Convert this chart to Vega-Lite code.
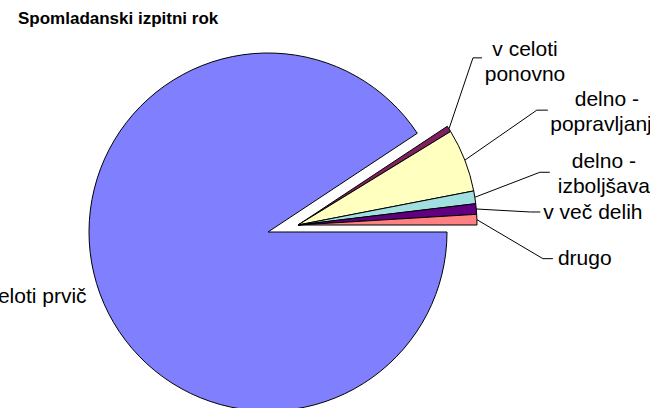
{
  "$schema": "https://vega.github.io/schema/vega-lite/v6.json",
  "width": 536,
  "height": 352,
  "autosize": "none",
  "padding": {"left": 0, "top": 56, "right": 114, "bottom": 0},
  "background": "#ffffff",
  "title": {"text": "Spomladanski izpitni rok", "anchor": "start", "frame": "group", "font": "Liberation Sans", "fontSize": 17, "fontWeight": "bold", "color": "#000000", "dx": 18, "offset": -2, "baseline": "alphabetic"},
  "config": {"view": {"stroke": null}},
  "data": {"values": [
    {"cat": "v celoti prvič", "value": 90.7, "n": 1},
    {"cat": "v celoti ponovno", "value": 0.55, "n": 2},
    {"cat": "delno - popravljanje", "value": 5.7, "n": 3},
    {"cat": "delno - izboljšava", "value": 1.15, "n": 4},
    {"cat": "v več delih", "value": 0.95, "n": 5},
    {"cat": "drugo", "value": 0.95, "n": 6}
  ]},
  "transform": [
    {"joinaggregate": [{"op": "sum", "field": "value", "as": "total"}]},
    {"stack": "value", "groupby": [], "sort": [{"field": "n", "order": "ascending"}], "as": ["v0", "v1"]},
    {"calculate": "datum.v0 / datum.total", "as": "f0"},
    {"calculate": "datum.v1 / datum.total", "as": "f1"},
    {"calculate": "width / 2 + (datum.n == 1 ? 0 : 30)", "as": "cx"},
    {"calculate": "height / 2 + (datum.n == 1 ? 0 : -7)", "as": "cy"},
    {"calculate": "PI / 2 + PI * (datum.f0 + datum.f1)", "as": "ang"},
    {"calculate": "datum.cx + 179 * sin(datum.ang)", "as": "sx"},
    {"calculate": "datum.cy - 179 * cos(datum.ang)", "as": "sy"},
    {"calculate": "datum.n == 2 ? replace(datum.cat, 'i p', 'i\\np') : replace(datum.cat, ' - ', ' -\\n')", "as": "lbl"}
  ],
  "layer": [
    {
      "mark": {"type": "arc", "outerRadius": 179, "stroke": "#000000", "strokeWidth": 1},
      "encoding": {
        "x": {"field": "cx", "type": "quantitative", "scale": null},
        "y": {"field": "cy", "type": "quantitative", "scale": null},
        "theta": {"field": "f0", "type": "quantitative", "scale": {"domain": [0, 1], "range": [1.5707963, 7.8539816]}},
        "theta2": {"field": "f1"},
        "color": {"field": "cat", "type": "nominal", "legend": null,
          "scale": {"domain": ["v celoti prvič", "v celoti ponovno", "delno - popravljanje", "delno - izboljšava", "v več delih", "drugo"],
                    "range": ["#8080ff", "#802060", "#ffffc0", "#a0e0e0", "#600080", "#ff8080"]}}
      }
    },
    {
      "transform": [{"filter": "datum.n == 1"}],
      "mark": {"type": "text", "align": "right", "baseline": "middle", "dx": -10, "dy": 13, "font": "Liberation Sans", "fontSize": 21, "color": "#000000", "lineBreak": "\n"},
      "encoding": {
        "x": {"field": "sx", "type": "quantitative", "scale": null},
        "y": {"field": "sy", "type": "quantitative", "scale": null},
        "text": {"field": "lbl"}
      }
    },
    {
      "transform": [{"filter": "datum.n == 2"}],
      "layer": [
        {"mark": {"type": "text", "align": "center", "baseline": "middle", "dx": 76, "dy": -79, "font": "Liberation Sans", "fontSize": 21, "lineHeight": 25, "color": "#000000", "lineBreak": "\n"},
         "encoding": {"x": {"field": "sx", "type": "quantitative", "scale": null}, "y": {"field": "sy", "type": "quantitative", "scale": null}, "text": {"field": "lbl"}}},
        {"mark": {"type": "rule", "color": "#000000", "strokeWidth": 1, "x2Offset": 24, "y2Offset": -71},
         "encoding": {"x": {"field": "sx", "type": "quantitative", "scale": null}, "y": {"field": "sy", "type": "quantitative", "scale": null}, "x2": {"field": "sx"}, "y2": {"field": "sy"}}},
        {"mark": {"type": "rule", "color": "#000000", "strokeWidth": 1, "xOffset": 24, "yOffset": -71, "x2Offset": 33, "y2Offset": -71},
         "encoding": {"x": {"field": "sx", "type": "quantitative", "scale": null}, "y": {"field": "sy", "type": "quantitative", "scale": null}, "x2": {"field": "sx"}, "y2": {"field": "sy"}}}
      ]
    },
    {
      "transform": [{"filter": "datum.n == 3"}],
      "layer": [
        {"mark": {"type": "text", "align": "center", "baseline": "middle", "dx": 142, "dy": -60, "font": "Liberation Sans", "fontSize": 21, "lineHeight": 25, "color": "#000000", "lineBreak": "\n"},
         "encoding": {"x": {"field": "sx", "type": "quantitative", "scale": null}, "y": {"field": "sy", "type": "quantitative", "scale": null}, "text": {"field": "lbl"}}},
        {"mark": {"type": "rule", "color": "#000000", "strokeWidth": 1, "x2Offset": 72, "y2Offset": -50},
         "encoding": {"x": {"field": "sx", "type": "quantitative", "scale": null}, "y": {"field": "sy", "type": "quantitative", "scale": null}, "x2": {"field": "sx"}, "y2": {"field": "sy"}}},
        {"mark": {"type": "rule", "color": "#000000", "strokeWidth": 1, "xOffset": 72, "yOffset": -50, "x2Offset": 83, "y2Offset": -50},
         "encoding": {"x": {"field": "sx", "type": "quantitative", "scale": null}, "y": {"field": "sy", "type": "quantitative", "scale": null}, "x2": {"field": "sx"}, "y2": {"field": "sy"}}}
      ]
    },
    {
      "transform": [{"filter": "datum.n == 4"}],
      "layer": [
        {"mark": {"type": "text", "align": "center", "baseline": "middle", "dx": 129, "dy": -35, "font": "Liberation Sans", "fontSize": 21, "lineHeight": 25, "color": "#000000", "lineBreak": "\n"},
         "encoding": {"x": {"field": "sx", "type": "quantitative", "scale": null}, "y": {"field": "sy", "type": "quantitative", "scale": null}, "text": {"field": "lbl"}}},
        {"mark": {"type": "rule", "color": "#000000", "strokeWidth": 1, "x2Offset": 65, "y2Offset": -25},
         "encoding": {"x": {"field": "sx", "type": "quantitative", "scale": null}, "y": {"field": "sy", "type": "quantitative", "scale": null}, "x2": {"field": "sx"}, "y2": {"field": "sy"}}},
        {"mark": {"type": "rule", "color": "#000000", "strokeWidth": 1, "xOffset": 65, "yOffset": -25, "x2Offset": 75, "y2Offset": -25},
         "encoding": {"x": {"field": "sx", "type": "quantitative", "scale": null}, "y": {"field": "sy", "type": "quantitative", "scale": null}, "x2": {"field": "sx"}, "y2": {"field": "sy"}}}
      ]
    },
    {
      "transform": [{"filter": "datum.n == 5"}],
      "layer": [
        {"mark": {"type": "text", "align": "left", "baseline": "middle", "dx": 67, "dy": 4, "font": "Liberation Sans", "fontSize": 21, "color": "#000000"},
         "encoding": {"x": {"field": "sx", "type": "quantitative", "scale": null}, "y": {"field": "sy", "type": "quantitative", "scale": null}, "text": {"field": "lbl"}}},
        {"mark": {"type": "rule", "color": "#000000", "strokeWidth": 1, "x2Offset": 54, "y2Offset": 3},
         "encoding": {"x": {"field": "sx", "type": "quantitative", "scale": null}, "y": {"field": "sy", "type": "quantitative", "scale": null}, "x2": {"field": "sx"}, "y2": {"field": "sy"}}},
        {"mark": {"type": "rule", "color": "#000000", "strokeWidth": 1, "xOffset": 54, "yOffset": 3, "x2Offset": 64, "y2Offset": 3},
         "encoding": {"x": {"field": "sx", "type": "quantitative", "scale": null}, "y": {"field": "sy", "type": "quantitative", "scale": null}, "x2": {"field": "sx"}, "y2": {"field": "sy"}}}
      ]
    },
    {
      "transform": [{"filter": "datum.n == 6"}],
      "layer": [
        {"mark": {"type": "text", "align": "left", "baseline": "middle", "dx": 81, "dy": 39, "font": "Liberation Sans", "fontSize": 21, "color": "#000000"},
         "encoding": {"x": {"field": "sx", "type": "quantitative", "scale": null}, "y": {"field": "sy", "type": "quantitative", "scale": null}, "text": {"field": "lbl"}}},
        {"mark": {"type": "rule", "color": "#000000", "strokeWidth": 1, "x2Offset": 66, "y2Offset": 39},
         "encoding": {"x": {"field": "sx", "type": "quantitative", "scale": null}, "y": {"field": "sy", "type": "quantitative", "scale": null}, "x2": {"field": "sx"}, "y2": {"field": "sy"}}},
        {"mark": {"type": "rule", "color": "#000000", "strokeWidth": 1, "xOffset": 66, "yOffset": 39, "x2Offset": 76, "y2Offset": 39},
         "encoding": {"x": {"field": "sx", "type": "quantitative", "scale": null}, "y": {"field": "sy", "type": "quantitative", "scale": null}, "x2": {"field": "sx"}, "y2": {"field": "sy"}}}
      ]
    }
  ]
}
